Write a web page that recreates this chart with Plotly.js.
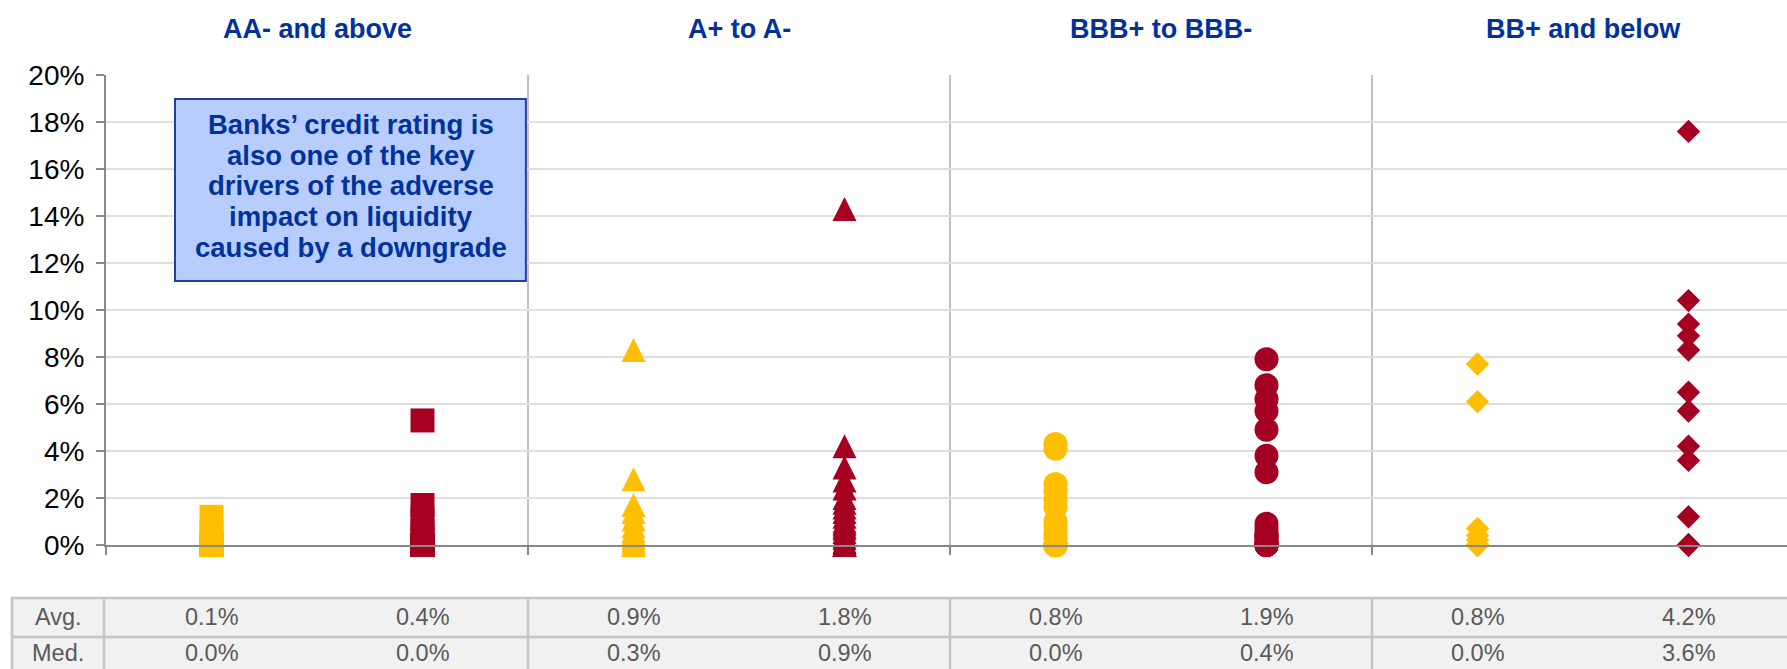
<!DOCTYPE html>
<html>
<head>
<meta charset="utf-8">
<script src="https://cdn.plot.ly/plotly-3.0.1.min.js"></script>
<style>
html,body{margin:0;padding:0;background:#ffffff;}
#chart{width:1787px;height:669px;}
</style>
</head>
<body>
<div id="chart"></div>
<script>
// ---------- DATA ----------
const ratingBuckets = ['AA- and above', 'A+ to A-', 'BBB+ to BBB-', 'BB+ and below'];

// Impact on liquidity (%), one value per bank
const aaYellow  = [1.2, 0.6, 0.2, 0, 0, 0, 0, 0, 0, 0, 0, 0, 0, 0, 0, 0, 0];
const aaRed     = [5.3, 1.7, 1.1, 0.6, 0.3, 0, 0, 0, 0, 0, 0, 0, 0, 0, 0, 0, 0, 0, 0, 0, 0];
const aYellow   = [8.3, 2.8, 1.7, 1.4, 1.1, 0.8, 0.6, 0.5, 0.4, 0.3, 0.2, 0.1, 0.1, 0, 0, 0, 0, 0, 0];
const aRed      = [14.3, 4.2, 3.3, 2.75, 2.4, 2.0, 1.8, 1.6, 1.4, 1.2, 1.0, 0.9, 0.8, 0.7, 0.55, 0.4, 0.3, 0.15, 0.1, 0, 0, 0, 0, 0, 0];
const bbbYellow = [4.3, 4.1, 2.6, 2.3, 1.9, 1.6, 1.0, 0.8, 0.5, 0.3, 0, 0, 0, 0, 0, 0, 0, 0, 0, 0, 0, 0, 0, 0];
const bbbRed    = [7.9, 6.8, 6.2, 5.7, 4.9, 3.8, 3.1, 0.9, 0.7, 0.5, 0.4, 0.4, 0.3, 0.2, 0.1, 0, 0, 0, 0, 0, 0, 0];
const bbYellow  = [7.7, 6.1, 0.7, 0.4, 0.2, 0, 0, 0, 0, 0, 0, 0, 0, 0, 0, 0, 0, 0, 0];
const bbRed     = [17.6, 10.4, 9.4, 8.9, 8.3, 6.5, 5.7, 4.2, 3.6, 1.2, 0, 0, 0, 0, 0, 0, 0];

// Table below the chart (%)
const rowLabels = ['Avg.', 'Med.'];
const avgYellow = [0.1, 0.9, 0.8, 0.8];
const avgRed    = [0.4, 1.8, 1.9, 4.2];
const medYellow = [0.0, 0.3, 0.0, 0.0];
const medRed    = [0.0, 0.9, 0.4, 3.6];

// y-axis ticks (%)
const yTickValues = [0, 2, 4, 6, 8, 10, 12, 14, 16, 18, 20];

const noteLines = [
  'Banks’ credit rating is',
  'also one of the key',
  'drivers of the adverse',
  'impact on liquidity',
  'caused by a downgrade'
];

// ---------- STYLE ----------
const YELLOW = '#FFBF00';
const RED = '#A50021';
const BLUE = '#003299';
const FONT = 'Liberation Sans, Arial, sans-serif';

const yellowSets = [aaYellow, aYellow, bbbYellow, bbYellow];
const redSets = [aaRed, aRed, bbbRed, bbRed];

const markerStyles = [
  {symbol: 'square', size: 24},
  {symbol: 'arrow-down', angle: 180, standoff: 12, size: 24},
  {symbol: 'circle', size: 24},
  {symbol: 'diamond', size: 18}
];

const traces = [];
ratingBuckets.forEach((b, i) => {
  [[yellowSets[i], YELLOW, 0.25], [redSets[i], RED, 0.75]].forEach(([vals, col, off]) => {
    traces.push({
      type: 'scatter',
      mode: 'markers',
      name: b,
      x: vals.map(() => i + off),
      y: vals,
      cliponaxis: false,
      hoverinfo: 'y',
      showlegend: false,
      marker: Object.assign({color: col, line: {width: 0}}, markerStyles[i])
    });
  });
});

// ---------- LAYOUT ----------
const W = 1787, H = 669;
const M = {l: 106, r: 0, t: 75, b: 124};
const plotW = W - M.l - M.r, plotH = H - M.t - M.b;
const bucketPx = 422;
const xMax = plotW / bucketPx;
const pxToPaperY = py => (H - M.b - py) / plotH;
const pxToPaperX = px => (px - M.l) / plotW;

const tableTop = 598, tableMid = 637, tableBottom = 700;
const tableLeft = 12;
const BORDER = '#c4c4c4';

const shapes = [];
// note box
shapes.push({type: 'rect', xref: 'x', yref: 'y', layer: 'above',
  x0: 0.1635, x1: 0.995, y0: 11.23, y1: 18.98,
  fillcolor: '#b8cdff', line: {color: '#1f3fa8', width: 2}});
// table
shapes.push({type: 'rect', xref: 'paper', yref: 'paper',
  x0: pxToPaperX(tableLeft), x1: 1.05, y0: pxToPaperY(tableTop), y1: pxToPaperY(tableBottom),
  fillcolor: '#f1f1f1', line: {color: BORDER, width: 2.5}});
shapes.push({type: 'line', xref: 'paper', yref: 'paper',
  x0: pxToPaperX(tableLeft), x1: 1.05, y0: pxToPaperY(tableMid), y1: pxToPaperY(tableMid),
  line: {color: BORDER, width: 2.5}});
[0, 1, 2, 3].forEach(k => {
  const xp = k === 0 ? pxToPaperX(104) : k / xMax;
  shapes.push({type: 'line', xref: 'paper', yref: 'paper',
    x0: xp, x1: xp, y0: pxToPaperY(tableTop), y1: pxToPaperY(tableBottom),
    line: {color: BORDER, width: 2.5}});
});

const annotations = [];
ratingBuckets.forEach((b, i) => {
  annotations.push({xref: 'x', yref: 'paper', x: i + 0.5, y: pxToPaperY(29),
    text: b, showarrow: false, xanchor: 'center', yanchor: 'middle',
    font: {family: FONT, size: 27, color: BLUE, weight: 'bold'}});
});

const rowY = [pxToPaperY(617), pxToPaperY(653)];
const tableFont = {family: FONT, size: 23.5, color: '#595959'};
rowLabels.forEach((lab, r) => {
  annotations.push({xref: 'paper', yref: 'paper', x: pxToPaperX(58), y: rowY[r], text: lab,
    showarrow: false, xanchor: 'center', yanchor: 'middle', borderpad: 0, font: tableFont});
});
[[avgYellow, avgRed], [medYellow, medRed]].forEach(([ys, rs], r) => {
  ratingBuckets.forEach((b, i) => {
    annotations.push({xref: 'x', yref: 'paper', x: i + 0.25, y: rowY[r], text: ys[i].toFixed(1) + '%',
      showarrow: false, xanchor: 'center', yanchor: 'middle', borderpad: 0, font: tableFont});
    annotations.push({xref: 'x', yref: 'paper', x: i + 0.75, y: rowY[r], text: rs[i].toFixed(1) + '%',
      showarrow: false, xanchor: 'center', yanchor: 'middle', borderpad: 0, font: tableFont});
  });
});

// note text, one annotation per line to match the tight line spacing
const noteCenterY = 15.28, noteStep = 1.31;
noteLines.forEach((line, k) => {
  annotations.push({xref: 'x', yref: 'y', x: 0.5795,
    y: noteCenterY + (2 - k) * noteStep, text: line,
    showarrow: false, xanchor: 'center', yanchor: 'middle',
    font: {family: FONT, size: 27.5, color: BLUE, weight: 'bold'}});
});

const layout = {
  width: W, height: H,
  margin: M,
  paper_bgcolor: '#ffffff', plot_bgcolor: '#ffffff',
  font: {family: FONT},
  showlegend: false,
  xaxis: {
    range: [0, xMax], tickvals: [0, 1, 2, 3], showticklabels: false,
    ticks: 'outside', ticklen: 8, tickwidth: 2, tickcolor: '#888888',
    showgrid: true, gridcolor: '#c0c0c0', gridwidth: 2,
    showline: true, linecolor: '#888888', linewidth: 2, zeroline: false, fixedrange: true
  },
  yaxis: {
    range: [0, 20], tickvals: yTickValues, ticktext: yTickValues.map(v => v + '%'),
    ticks: 'outside', ticklen: 8, tickwidth: 2, tickcolor: '#888888',
    showgrid: true, gridcolor: '#dedede', gridwidth: 2.5,
    showline: true, linecolor: '#888888', linewidth: 2, zeroline: false,
    ticklabelstandoff: 6,
    tickfont: {family: FONT, size: 28, color: '#000000'}, fixedrange: true
  },
  shapes: shapes,
  annotations: annotations
};

Plotly.newPlot('chart', traces, layout, {displayModeBar: false, staticPlot: true});
</script>
</body>
</html>
